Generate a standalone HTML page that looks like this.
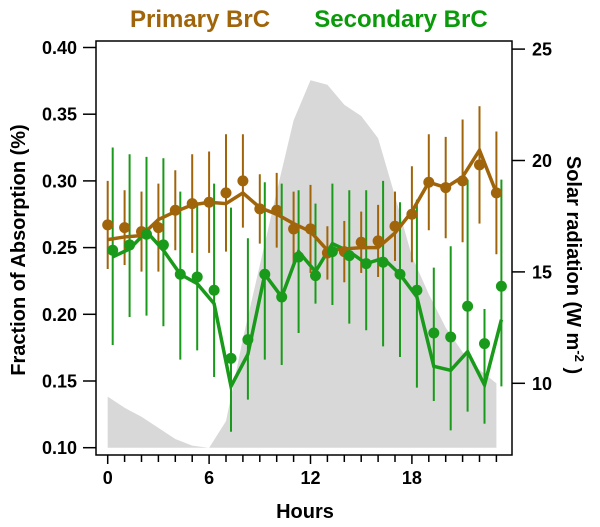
<!DOCTYPE html>
<html><head><meta charset="utf-8"><style>
body{margin:0;background:#fff}
svg{display:block;font-family:"Liberation Sans",Arial,sans-serif;font-weight:bold}
</style></head><body>
<svg id="chart" width="600" height="527" viewBox="0 0 600 527">
<g id="area"></g>
<g id="marks"></g>
<g id="axes"></g>
<text x="200" y="27" text-anchor="middle" font-size="24" fill="#a0650a">Primary BrC</text>
<text x="401" y="27" text-anchor="middle" font-size="24" fill="#0a9a0a">Secondary BrC</text>
<text x="305" y="518" text-anchor="middle" font-size="20">Hours</text>
<text transform="translate(25,250) rotate(-90)" text-anchor="middle" font-size="20">Fraction of Absorption (%)</text>
<text transform="translate(567,265) rotate(90)" text-anchor="middle" font-size="20">Solar radiation (W m<tspan dy="-8" font-size="13">-2</tspan><tspan dy="8"> )</tspan></text>
</svg>
<script>
const hours=[0,1,2,3,4,5,6,7,8,9,10,11,12,13,14,15,16,17,18,19,20,21,22,23];
const solar=[9.4,8.9,8.5,8.0,7.5,7.2,7.1,8.3,12.0,15.3,18.6,21.8,23.6,23.4,22.5,22.0,21.0,18.4,15.7,14.0,12.5,11.4,10.6,10.0];
const primaryPts=[0.267,0.265,0.262,0.265,0.278,0.283,0.284,0.291,0.300,0.279,0.278,0.264,0.264,0.246,0.247,0.254,0.255,0.266,0.275,0.299,0.295,0.300,0.312,0.291];
const primaryErr=[0.033,0.028,0.030,0.033,0.030,0.037,0.038,0.044,0.035,0.026,0.028,0.028,0.033,0.020,0.023,0.023,0.027,0.026,0.036,0.036,0.038,0.046,0.044,0.046];
const primaryLine=[0.256,0.258,0.259,0.271,0.277,0.282,0.284,0.283,0.291,0.280,0.275,0.268,0.262,0.248,0.249,0.250,0.250,0.261,0.277,0.299,0.295,0.303,0.323,0.291];
const secondaryPts=[0.248,0.252,0.260,0.252,0.230,0.228,0.218,0.167,0.181,0.230,0.213,0.243,0.229,0.247,0.244,0.238,0.239,0.230,0.218,0.186,0.183,0.206,0.178,0.221];
const secondaryHi=[0.325,0.320,0.318,0.317,0.292,0.284,0.298,0.280,0.257,0.299,0.298,0.293,0.283,0.298,0.293,0.293,0.300,0.284,0.286,0.235,0.251,0.301,0.204,0.301];
const secondaryLo=[0.177,0.198,0.199,0.191,0.166,0.173,0.153,0.112,0.136,0.166,0.162,0.186,0.208,0.207,0.193,0.188,0.176,0.168,0.145,0.135,0.113,0.127,0.118,0.146];
const secondaryLine=[0.243,0.249,0.262,0.248,0.230,0.223,0.208,0.146,0.170,0.230,0.213,0.247,0.232,0.253,0.247,0.238,0.242,0.230,0.213,0.161,0.158,0.172,0.147,0.196];
const yTicks=[0.10,0.15,0.20,0.25,0.30,0.35,0.40];
const y2Ticks=[10,15,20,25];
const xLabels=[0,6,12,18];

const X=h=>107.7+h*16.9;
const Y=v=>447.7-(v-0.1)*1334;
const Y2=v=>383.3-(v-10)*22.28;
const NS="http://www.w3.org/2000/svg";
function mk(parent,tag,attrs){const e=document.createElementNS(NS,tag);for(const k in attrs)e.setAttribute(k,attrs[k]);parent.appendChild(e);return e;}
const area=document.getElementById('area'),marks=document.getElementById('marks'),axes=document.getElementById('axes');
const BROWN="#a0650a",GREEN="#1a9a1a",OFF=5;

let d=`M${X(hours[0])},447.7`;
hours.forEach((h,i)=>{d+=` L${X(h)},${Y2(solar[i])}`});
d+=` L${X(hours[hours.length-1])},447.7 Z`;
const ap=mk(area,'path',{d:d,fill:'#d8d8d8'});



hours.forEach((h,i)=>{
 const b=mk(marks,'line',{x1:X(h),x2:X(h),y1:Y(primaryPts[i]+primaryErr[i]),y2:Y(primaryPts[i]-primaryErr[i]),stroke:BROWN,'stroke-width':2});
 
 
});
hours.forEach((h,i)=>{
 const b=mk(marks,'line',{x1:X(h)+OFF,x2:X(h)+OFF,y1:Y(secondaryHi[i]),y2:Y(secondaryLo[i]),stroke:GREEN,'stroke-width':2});
 
 
});
const pl=mk(marks,'polyline',{points:hours.map((h,i)=>X(h)+','+Y(primaryLine[i])).join(' '),fill:'none',stroke:BROWN,'stroke-width':3.5});


const sl=mk(marks,'polyline',{points:hours.map((h,i)=>(X(h)+OFF)+','+Y(secondaryLine[i])).join(' '),fill:'none',stroke:GREEN,'stroke-width':3.5});


hours.forEach((h,i)=>{
 const c=mk(marks,'circle',{cx:X(h),cy:Y(primaryPts[i]),r:5.5,fill:BROWN});
 
 
});
hours.forEach((h,i)=>{
 const c=mk(marks,'circle',{cx:X(h)+OFF,cy:Y(secondaryPts[i]),r:5.5,fill:GREEN});
 
 
});

const fr=mk(axes,'rect',{x:96,y:41,width:416,height:414,fill:'none',stroke:'#000','stroke-width':1.5});


yTicks.forEach(v=>{
 mk(axes,'line',{x1:83,x2:96,y1:Y(v),y2:Y(v),stroke:'#000','stroke-width':1.5});
 const t=mk(axes,'text',{x:77,y:Y(v)+6.5,'text-anchor':'end','font-size':18});
 t.textContent=v.toFixed(2);
 
 
});
y2Ticks.forEach(v=>{
 mk(axes,'line',{x1:512,x2:525,y1:Y2(v),y2:Y2(v),stroke:'#000','stroke-width':1.5});
 const t=mk(axes,'text',{x:532,y:Y2(v)+6.5,'font-size':18});
 t.textContent=v;
 
 
});
hours.forEach(h=>{
 mk(axes,'line',{x1:X(h),x2:X(h),y1:455,y2:xLabels.includes(h)?464:462,stroke:'#000','stroke-width':1.5});
});
xLabels.forEach(h=>{
 const t=mk(axes,'text',{x:X(h),y:484,'text-anchor':'middle','font-size':18});
 t.textContent=h;
 
 
});
</script>
</body></html>
